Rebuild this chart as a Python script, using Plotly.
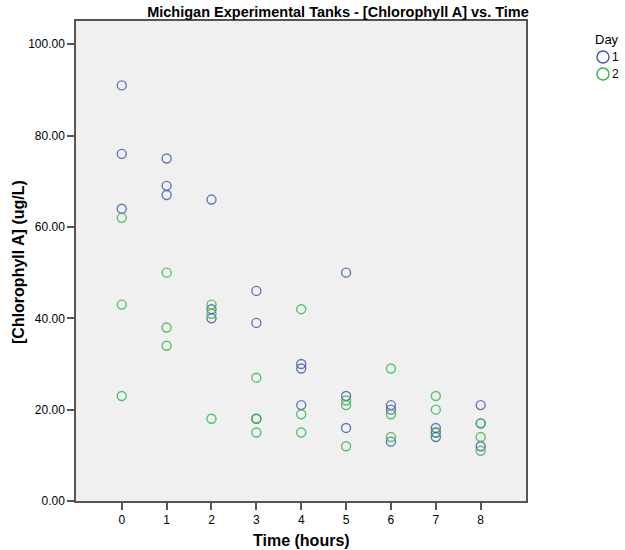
import plotly.graph_objects as go

# Sampling times (hours) and chlorophyll A readings (ug/L) per day
time_day1 = [0, 0, 0, 1, 1, 1, 2, 2, 2, 3, 3, 3, 4, 4, 4, 5, 5, 5, 6, 6, 6, 7, 7, 7, 8, 8, 8]
chl_day1 = [91, 76, 64, 75, 69, 67, 66, 42, 40, 46, 39, 18, 30, 29, 21, 50, 23, 16, 21, 20, 13, 16, 15, 14, 21, 17, 12]

time_day2 = [0, 0, 0, 1, 1, 1, 2, 2, 2, 3, 3, 3, 4, 4, 4, 5, 5, 5, 6, 6, 6, 7, 7, 7, 8, 8, 8]
chl_day2 = [62, 43, 23, 50, 38, 34, 43, 41, 18, 27, 18, 15, 42, 19, 15, 22, 21, 12, 29, 19, 14, 23, 20, 15, 17, 14, 11]

day_labels = ["1", "2"]
day_colors = ["#3E58AC", "#2EB848"]

x_ticks = list(range(0, 9))
y_ticks = [0, 20, 40, 60, 80, 100]

FONT = "Liberation Sans, Arial, sans-serif"
FRAME = "#555555"

fig = go.Figure()
for xs, ys, color, name in [(time_day1, chl_day1, day_colors[0], day_labels[0]),
                            (time_day2, chl_day2, day_colors[1], day_labels[1])]:
    fig.add_trace(go.Scatter(
        x=xs, y=ys, mode="markers", name=name, showlegend=False,
        marker=dict(symbol="circle-open", size=9, color=color, opacity=0.8,
                    line=dict(width=1.4, color=color)),
    ))

# Plot frame: left 76px, right 526px, top 21px, bottom 501px
L, R, T, B = 76, 526, 21, 501
W, H = 625, 550

fig.update_layout(
    width=W, height=H,
    margin=dict(l=L, r=W - R, t=T, b=H - B, pad=0, autoexpand=False),
    paper_bgcolor="white",
    plot_bgcolor="#F0F0F0",
    font=dict(family=FONT, color="#000000", size=12),
    title=dict(
        text="<b>Michigan Experimental Tanks - [Chlorophyll A] vs. Time</b>",
        x=338 / W, xref="container", xanchor="center",
        y=1 - 12 / H, yref="container", yanchor="middle",
        font=dict(family=FONT, size=14.5, color="#000000"),
    ),
    xaxis=dict(
        range=[-1.02, 9.01], tickmode="array", tickvals=x_ticks,
        ticktext=[str(v) for v in x_ticks],
        showgrid=False, zeroline=False, automargin=False,
        showline=True, mirror=True, linecolor=FRAME, linewidth=1.5,
        ticks="outside", ticklen=7, tickwidth=1.5, tickcolor=FRAME,
        tickfont=dict(family=FONT, size=12, color="#000000"),
    ),
    yaxis=dict(
        range=[0, 105.1], tickmode="array", tickvals=y_ticks,
        ticktext=[f"{v:.2f}" for v in y_ticks],
        showgrid=False, zeroline=False, automargin=False,
        showline=True, mirror=True, linecolor=FRAME, linewidth=1.5,
        ticks="outside", ticklen=7, tickwidth=1.5, tickcolor=FRAME,
        tickfont=dict(family=FONT, size=12, color="#000000"),
    ),
)

def px_x(px):
    return (px - L) / (R - L)

def px_y(py):
    return (B - py) / (B - T)

# Axis titles
fig.add_annotation(text="<b>Time (hours)</b>", xref="paper", yref="paper",
                   x=px_x(301), y=px_y(540), xanchor="center", yanchor="middle",
                   showarrow=False, font=dict(family=FONT, size=16, color="#000000"))
fig.add_annotation(text="<b>[Chlorophyll A] (ug/L)</b>", xref="paper", yref="paper",
                   x=px_x(18), y=px_y(262), xanchor="center", yanchor="middle",
                   textangle=-90, showarrow=False,
                   font=dict(family=FONT, size=16, color="#000000"))

# Legend drawn beside the plot: title, ring symbols and labels
fig.add_annotation(text="Day", xref="paper", yref="paper",
                   x=px_x(593), y=px_y(40), xanchor="left", yanchor="middle",
                   showarrow=False, font=dict(family=FONT, size=13, color="#000000"))
for i, (label, color) in enumerate(zip(day_labels, day_colors)):
    cy = 57 + 17 * i
    fig.add_shape(type="circle", xref="paper", yref="paper",
                  xsizemode="pixel", ysizemode="pixel",
                  xanchor=px_x(603), yanchor=px_y(cy),
                  x0=-6, x1=6, y0=-6, y1=6,
                  line=dict(color=color, width=1.4), fillcolor="rgba(0,0,0,0)")
    fig.add_annotation(text=label, xref="paper", yref="paper",
                       x=px_x(610), y=px_y(cy), xanchor="left", yanchor="middle",
                       showarrow=False, font=dict(family=FONT, size=12, color="#000000"))

fig.write_html("out.html")
